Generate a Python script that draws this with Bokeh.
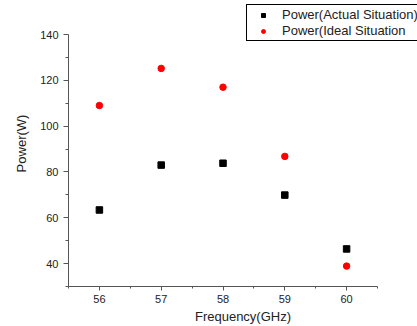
from bokeh.plotting import figure
from bokeh.embed import file_html
from bokeh.resources import INLINE
from bokeh.models import Legend, LegendItem, FixedTicker, Range1d

freq = [56, 57, 58, 59, 60]
actual = [63.4, 83.0, 83.8, 69.9, 46.4]
ideal = [109.0, 125.2, 117.0, 86.8, 38.9]
x_ticks = [56, 57, 58, 59, 60]
y_ticks = [40, 60, 80, 100, 120, 140]
x_axis_span = (55.5, 60.5)
y_axis_span = (30, 140)

FONT = "Liberation Sans"
W, H = 417, 326
left, bottom = 68, 40
axis_w, axis_h = 309, 252          # pixel length of the drawn axes
frame_w, frame_h = W - left, H - bottom
xs = (x_axis_span[1] - x_axis_span[0]) / axis_w
ys = (y_axis_span[1] - y_axis_span[0]) / axis_h

p = figure(width=W, height=H, output_backend="svg", toolbar_location=None,
           x_range=Range1d(x_axis_span[0], x_axis_span[0] + frame_w * xs),
           y_range=Range1d(y_axis_span[0], y_axis_span[0] + frame_h * ys),
           min_border_left=left, min_border_right=0, min_border_top=0, min_border_bottom=bottom)
p.outline_line_color = None
p.grid.visible = False
p.background_fill_color = "white"

r1 = p.scatter(freq, actual, marker="square", size=6.5, color="black")
r2 = p.scatter(freq, ideal, marker="circle", size=6.5, color="red")

for ax in (p.xaxis[0], p.yaxis[0]):
    ax.axis_line_color = "#555555"
    ax.major_tick_line_color = "#555555"
    ax.minor_tick_line_color = "#555555"
    ax.major_label_text_font = FONT
    ax.major_label_text_font_size = "11px"
    ax.major_label_text_color = "#222222"
    ax.axis_label_text_font = FONT
    ax.axis_label_text_font_size = "13px"
    ax.axis_label_text_font_style = "normal"
    ax.axis_label_text_color = "#222222"
    ax.major_tick_in = 0
    ax.minor_tick_in = 0

p.xaxis.bounds = x_axis_span
p.yaxis.bounds = y_axis_span
p.xaxis.ticker = FixedTicker(ticks=x_ticks, minor_ticks=[55.5, 56.5, 57.5, 58.5, 59.5, 60.5])
p.yaxis.ticker = FixedTicker(ticks=y_ticks, minor_ticks=[30, 50, 70, 90, 110, 130])
p.xaxis.major_tick_out = 4
p.xaxis.minor_tick_out = 2
p.yaxis.major_tick_out = 5
p.yaxis.minor_tick_out = 3
p.xaxis.major_label_standoff = 4
p.xaxis.axis_label = "Frequency(GHz)"
p.yaxis.axis_label = "Power(W)"
p.xaxis.axis_label_standoff = 3
p.yaxis.axis_label_standoff = 8

legend = Legend(items=[LegendItem(label="Power(Actual Situation)", renderers=[r1]),
                       LegendItem(label="Power(Ideal Situation", renderers=[r2])],
                location=(178, 245), orientation="vertical")
legend.border_line_color = "black"
legend.border_line_width = 1
legend.border_line_alpha = 1
legend.background_fill_color = "white"
legend.background_fill_alpha = 1
legend.label_text_font = FONT
legend.label_text_font_size = "13px"
legend.label_text_color = "#222222"
legend.glyph_width = 28
legend.glyph_height = 10
legend.label_standoff = 5
legend.label_height = 15
legend.spacing = 1
legend.margin = 0
legend.padding = 2
p.add_layout(legend, "center")

open("out.html", "w").write(file_html(p, INLINE))
